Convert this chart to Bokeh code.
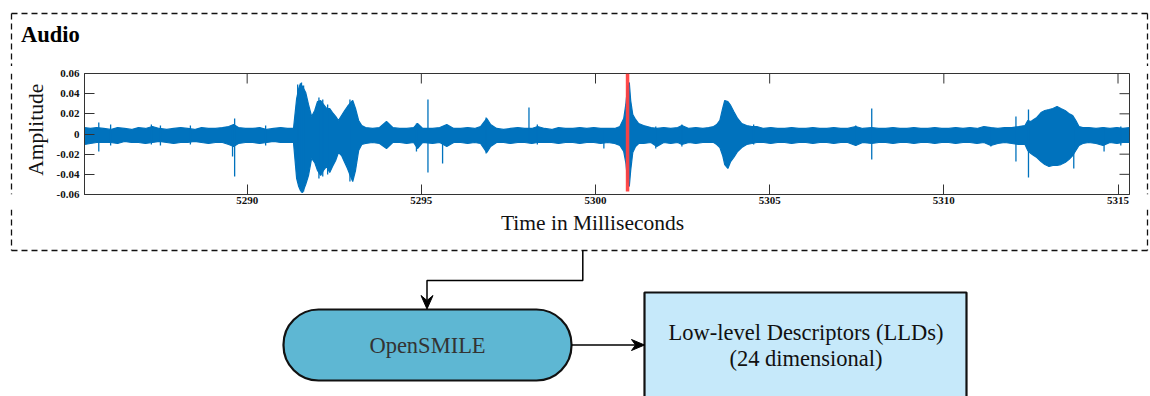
import math
from bokeh.plotting import figure
from bokeh.layouts import column, row
from bokeh.models import Range1d, FixedTicker, BoxAnnotation
from bokeh.core.properties import value
from bokeh.embed import file_html
from bokeh.resources import INLINE

# ---------------- data ----------------
x_span = [5285.33, 5315.33]
y_span = [-0.06, 0.06]
x_ticks = [5290, 5295, 5300, 5305, 5310, 5315]
x_tick_labels = ["5290", "5295", "5300", "5305", "5310", "5315"]
y_ticks = [-0.06, -0.04, -0.02, 0.0, 0.02, 0.04, 0.06]
y_tick_labels = ["-0.06", "-0.04", "-0.02", "0", "0.02", "0.04", "0.06"]

# waveform envelope (time in ms, upper / lower amplitude)
t_ms = [
    5285.33, 5285.50, 5285.68, 5285.88, 5286.08, 5286.28, 5286.48, 5286.68, 5286.88, 5287.08,
    5287.28, 5287.48, 5287.69, 5287.89, 5288.09, 5288.29, 5288.49, 5288.69, 5288.89, 5289.09,
    5289.29, 5289.47, 5289.61, 5289.75, 5289.95, 5290.16, 5290.36, 5290.56, 5290.76, 5290.96,
    5291.16, 5291.33, 5291.42, 5291.48, 5291.53, 5291.59, 5291.68, 5291.76, 5291.85, 5291.94,
    5292.02, 5292.11, 5292.19, 5292.28, 5292.37, 5292.45, 5292.54, 5292.62, 5292.71, 5292.80,
    5292.88, 5292.97, 5293.03, 5293.11, 5293.20, 5293.29, 5293.40, 5293.60, 5293.80, 5294.00,
    5294.18, 5294.38, 5294.58, 5294.78, 5294.89, 5295.04, 5295.32, 5295.53, 5295.73, 5295.93,
    5296.13, 5296.33, 5296.53, 5296.70, 5296.88, 5296.99, 5297.16, 5297.36, 5297.56, 5297.77,
    5297.97, 5298.17, 5298.34, 5298.54, 5298.74, 5298.94, 5299.14, 5299.35, 5299.55, 5299.75,
    5299.95, 5300.15, 5300.35, 5300.55, 5300.70, 5300.81, 5300.87, 5300.92, 5300.97, 5301.01,
    5301.07, 5301.15, 5301.24, 5301.38, 5301.59, 5301.76, 5301.96, 5302.16, 5302.36, 5302.48,
    5302.68, 5302.88, 5303.08, 5303.25, 5303.39, 5303.48, 5303.57, 5303.65, 5303.71, 5303.80,
    5303.88, 5303.97, 5304.08, 5304.20, 5304.34, 5304.49, 5304.63, 5304.83, 5305.03, 5305.23,
    5305.43, 5305.63, 5305.84, 5306.04, 5306.24, 5306.44, 5306.64, 5306.84, 5307.04, 5307.24,
    5307.47, 5307.67, 5307.93, 5308.13, 5308.33, 5308.54, 5308.74, 5308.94, 5309.14, 5309.34,
    5309.54, 5309.74, 5309.94, 5310.14, 5310.34, 5310.55, 5310.75, 5310.95, 5311.15, 5311.35,
    5311.55, 5311.75, 5311.95, 5312.15, 5312.33, 5312.41, 5312.50, 5312.58, 5312.67, 5312.79,
    5312.90, 5313.02, 5313.13, 5313.25, 5313.36, 5313.48, 5313.59, 5313.70, 5313.79, 5313.88,
    5313.99, 5314.16, 5314.37, 5314.57, 5314.77, 5314.97, 5315.14, 5315.33]
env_hi = [
    0.0064, 0.0055, 0.0064, 0.0055, 0.0045, 0.0064, 0.0055, 0.0045, 0.0064, 0.0055,
    0.0074, 0.0055, 0.0045, 0.0055, 0.0064, 0.0055, 0.0045, 0.0064, 0.0055, 0.0055,
    0.0064, 0.0074, 0.0094, 0.0064, 0.0055, 0.0055, 0.0064, 0.0045, 0.0055, 0.0064,
    0.0055, 0.0055, 0.0352, 0.0451, 0.0501, 0.0471, 0.0412, 0.0293, 0.0174, 0.0233,
    0.0322, 0.0332, 0.0293, 0.0253, 0.0253, 0.0213, 0.0174, 0.0134, 0.0184, 0.0233,
    0.0273, 0.0312, 0.0332, 0.0253, 0.0134, 0.0084, 0.0064, 0.0055, 0.0064, 0.0124,
    0.0064, 0.0055, 0.0055, 0.0064, 0.0104, 0.0055, 0.0055, 0.0064, 0.0094, 0.0055,
    0.0055, 0.0064, 0.0055, 0.0074, 0.0154, 0.0094, 0.0055, 0.0045, 0.0055, 0.0064,
    0.0055, 0.0055, 0.0074, 0.0055, 0.0045, 0.0064, 0.0055, 0.0055, 0.0064, 0.0055,
    0.0064, 0.0055, 0.0055, 0.0055, 0.0074, 0.0154, 0.0293, 0.0471, 0.0511, 0.0332,
    0.0193, 0.0144, 0.0104, 0.0084, 0.0064, 0.0055, 0.0064, 0.0055, 0.0064, 0.0084,
    0.0055, 0.0064, 0.0055, 0.0064, 0.0074, 0.0094, 0.0134, 0.0253, 0.0332, 0.0322,
    0.0283, 0.0223, 0.0154, 0.0104, 0.0084, 0.0074, 0.0074, 0.0055, 0.0064, 0.0055,
    0.0055, 0.0064, 0.0055, 0.0055, 0.0064, 0.0055, 0.0055, 0.0064, 0.0055, 0.0055,
    0.0074, 0.0055, 0.0064, 0.0055, 0.0055, 0.0064, 0.0055, 0.0055, 0.0064, 0.0055,
    0.0055, 0.0064, 0.0055, 0.0055, 0.0064, 0.0055, 0.0064, 0.0055, 0.0074, 0.0064,
    0.0055, 0.0064, 0.0064, 0.0074, 0.0084, 0.0134, 0.0124, 0.0144, 0.0164, 0.0213,
    0.0233, 0.0243, 0.0253, 0.0273, 0.0253, 0.0233, 0.0203, 0.0184, 0.0134, 0.0074,
    0.0064, 0.0064, 0.0055, 0.0064, 0.0055, 0.0064, 0.0055, 0.0064]
env_lo = [
    -0.0104, -0.0094, -0.0084, -0.0084, -0.0084, -0.0094, -0.0074, -0.0084, -0.0084, -0.0094,
    -0.0084, -0.0074, -0.0084, -0.0094, -0.0084, -0.0084, -0.0074, -0.0084, -0.0094, -0.0084,
    -0.0084, -0.0104, -0.0124, -0.0094, -0.0084, -0.0084, -0.0094, -0.0084, -0.0074, -0.0084,
    -0.0084, -0.0084, -0.0441, -0.0521, -0.0560, -0.0580, -0.0501, -0.0412, -0.0243, -0.0283,
    -0.0362, -0.0412, -0.0362, -0.0322, -0.0382, -0.0322, -0.0263, -0.0184, -0.0213, -0.0283,
    -0.0342, -0.0422, -0.0471, -0.0362, -0.0164, -0.0104, -0.0094, -0.0084, -0.0094, -0.0144,
    -0.0084, -0.0084, -0.0094, -0.0084, -0.0144, -0.0084, -0.0094, -0.0084, -0.0124, -0.0084,
    -0.0084, -0.0094, -0.0084, -0.0094, -0.0184, -0.0124, -0.0084, -0.0084, -0.0094, -0.0084,
    -0.0084, -0.0094, -0.0084, -0.0084, -0.0084, -0.0094, -0.0084, -0.0084, -0.0094, -0.0084,
    -0.0084, -0.0094, -0.0084, -0.0094, -0.0114, -0.0174, -0.0283, -0.0461, -0.0521, -0.0362,
    -0.0184, -0.0124, -0.0094, -0.0094, -0.0084, -0.0124, -0.0084, -0.0094, -0.0084, -0.0104,
    -0.0084, -0.0094, -0.0084, -0.0084, -0.0084, -0.0104, -0.0134, -0.0213, -0.0303, -0.0342,
    -0.0273, -0.0233, -0.0174, -0.0134, -0.0104, -0.0094, -0.0084, -0.0084, -0.0094, -0.0084,
    -0.0084, -0.0094, -0.0084, -0.0084, -0.0094, -0.0084, -0.0084, -0.0094, -0.0084, -0.0084,
    -0.0114, -0.0084, -0.0094, -0.0084, -0.0084, -0.0094, -0.0084, -0.0084, -0.0094, -0.0084,
    -0.0084, -0.0094, -0.0084, -0.0084, -0.0094, -0.0084, -0.0084, -0.0094, -0.0084, -0.0114,
    -0.0094, -0.0084, -0.0094, -0.0104, -0.0104, -0.0164, -0.0193, -0.0213, -0.0233, -0.0273,
    -0.0303, -0.0322, -0.0312, -0.0312, -0.0303, -0.0283, -0.0253, -0.0213, -0.0164, -0.0114,
    -0.0094, -0.0084, -0.0094, -0.0114, -0.0084, -0.0094, -0.0084, -0.0084]

# individual spikes sticking out of the band
spike_ms = [5285.74, 5286.08, 5287.25, 5287.51, 5288.37, 5289.58, 5289.64, 5290.53,
            5291.45, 5291.56, 5291.62, 5292.06, 5292.17, 5292.31, 5292.95, 5294.86,
            5295.19, 5295.61, 5296.86, 5298.09, 5298.33, 5300.24, 5301.73, 5302.48,
            5304.54, 5307.47, 5307.93, 5311.35, 5312.07, 5312.43, 5313.73, 5314.60, 5315.08]
spike_hi = [0.0114, 0.0094, 0.0094, 0.0084, 0.0084, 0.0084, 0.0154, 0.0084,
            0.0491, 0.0511, 0.0481, 0.0362, 0.0342, 0.0293, 0.0342, 0.0104,
            0.0342, 0.0000, 0.0164, 0.0263, 0.0094, 0.0035, 0.0074, 0.0094,
            0.0094, 0.0084, 0.0253, 0.0064, 0.0174, 0.0243, 0.0074, 0.0064, 0.0074]
spike_lo = [-0.0174, -0.0114, -0.0104, -0.0114, -0.0104, -0.0223, -0.0422, -0.0114,
            -0.0481, -0.0580, -0.0570, -0.0441, -0.0422, -0.0402, -0.0471, -0.0174,
            -0.0382, -0.0293, -0.0193, -0.0064, -0.0104, -0.0144, -0.0144, -0.0124,
            -0.0104, -0.0114, -0.0253, -0.0124, -0.0273, -0.0432, -0.0342, -0.0174, -0.0114]

# red time marker
marker_ms = [5300.92]
marker_lo = [-0.057]
marker_hi = [0.060]

panel_title = "Audio"
x_label = "Time in Milliseconds"
y_label = "Amplitude"
node_extract = "OpenSMILE"
node_lld = ["Low-level Descriptors (LLDs)", "(24 dimensional)"]

# ---------------- styling / layout ----------------
WAVE = "#0072BD"
RED = "#FF4040"
AX = "#333333"
SERIF = "Liberation Serif"
DASH = dict(line_color="#111111", line_width=1.3, line_dash="6 4")

PAGE_W, PAGE_H = 1150, 396
TOP_H = 66          # header strip
MID_B = 209         # bottom of the waveform strip
LEFT_W = 50         # strip left of the waveform figure
RIGHT_W = 15        # strip right of the waveform figure
BOX_L, BOX_R, BOX_T, BOX_B = 11, 1147, 13, 250   # dashed panel
FR_L, FR_R, FR_T, FR_B = 84, 1129, 73, 194       # waveform frame (page px)


def px_fig(x0, x1, y0, y1):
    f = figure(width=x1 - x0, height=y1 - y0, x_range=Range1d(x0, x1),
               y_range=Range1d(y1, y0), output_backend="svg", toolbar_location=None,
               x_axis_location=None, y_axis_location=None,
               min_border=0, min_border_left=0, min_border_right=0,
               min_border_top=0, min_border_bottom=0,
               background_fill_color="white", border_fill_color="white")
    f.outline_line_color = None
    f.grid.visible = False
    return f


def txt(f, x, y, s, size, **kw):
    f.text(x=[x], y=[y], text=[s], text_font=value(SERIF), text_font_size=value(size),
           text_baseline="middle", **kw)


# ---- header strip ----
top = px_fig(0, PAGE_W, 0, TOP_H)
top.segment(x0=[BOX_L], y0=[BOX_T], x1=[BOX_R], y1=[BOX_T], **DASH)
top.segment(x0=[BOX_L, BOX_R], y0=[BOX_T, BOX_T], x1=[BOX_L, BOX_R], y1=[TOP_H, TOP_H], **DASH)
txt(top, 20.5, 34, panel_title, "22.5px", text_font_style="bold", text_color="#000000",
    text_align="left")

# ---- left strip ----
left = px_fig(0, LEFT_W, TOP_H, MID_B)
left.segment(x0=[BOX_L], y0=[TOP_H], x1=[BOX_L], y1=[MID_B], **DASH)
txt(left, 35.5, 132.5, y_label, "21.5px", angle=math.pi / 2, text_color="#111111",
    text_align="center")

# ---- right strip ----
right = px_fig(PAGE_W - RIGHT_W, PAGE_W, TOP_H, MID_B)
right.segment(x0=[BOX_R], y0=[TOP_H], x1=[BOX_R], y1=[MID_B], **DASH)

# ---- waveform figure ----
wave_w = PAGE_W - LEFT_W - RIGHT_W
p = figure(width=wave_w, height=MID_B - TOP_H,
           x_range=Range1d(*x_span), y_range=Range1d(*y_span),
           output_backend="svg", toolbar_location=None,
           min_border_left=FR_L - LEFT_W, min_border_right=LEFT_W + wave_w - FR_R,
           min_border_top=FR_T - TOP_H, min_border_bottom=MID_B - FR_B,
           background_fill_color="white", border_fill_color="white")
p.grid.visible = False
p.outline_line_color = AX
p.outline_line_width = 1


def style_axis(ax):
    ax.major_tick_in = 10
    ax.major_tick_out = 0
    ax.minor_tick_in = 0
    ax.minor_tick_out = 0
    ax.minor_tick_line_color = None
    ax.axis_line_color = AX
    ax.major_tick_line_color = AX
    ax.major_label_text_font = SERIF
    ax.major_label_text_font_style = "bold"
    ax.major_label_text_font_size = "11px"
    ax.major_label_text_color = "#111111"


xa = p.xaxis[0]
xa.ticker = FixedTicker(ticks=x_ticks)
xa.major_label_overrides = dict(zip(x_ticks, x_tick_labels))
style_axis(xa)
xa.major_label_standoff = 2

ya = p.yaxis[0]
ya.ticker = FixedTicker(ticks=y_ticks)
ya.major_label_overrides = dict(zip(y_ticks, y_tick_labels))
style_axis(ya)
ya.major_label_standoff = 5

# mirrored inward ticks on the top and right edges (10 px long)
frame_w, frame_h = FR_R - FR_L, FR_B - FR_T
tick_dy = 10 * (y_span[1] - y_span[0]) / frame_h
tick_dx = 10 * (x_span[1] - x_span[0]) / frame_w
p.segment(x0=x_ticks, y0=[y_span[1]] * len(x_ticks), x1=x_ticks,
          y1=[y_span[1] - tick_dy] * len(x_ticks), line_color=AX, line_width=1)
p.segment(x0=[x_span[1]] * len(y_ticks), y0=y_ticks, x1=[x_span[1] - tick_dx] * len(y_ticks),
          y1=y_ticks, line_color=AX, line_width=1)

# waveform
p.varea(x=t_ms, y1=env_lo, y2=env_hi, fill_color=WAVE)
p.line(x=t_ms, y=env_hi, line_color=WAVE, line_width=1.2)
p.line(x=t_ms, y=env_lo, line_color=WAVE, line_width=1.2)
p.segment(x0=spike_ms, y0=spike_lo, x1=spike_ms, y1=spike_hi, line_color=WAVE, line_width=1.3)
p.segment(x0=marker_ms, y0=marker_lo, x1=marker_ms, y1=marker_hi, line_color=RED,
          line_width=3.5, line_alpha=0.95)

# ---- bottom strip: axis title, panel bottom, flow diagram ----
bot = px_fig(0, PAGE_W, MID_B, PAGE_H)
bot.segment(x0=[BOX_L, BOX_R], y0=[MID_B, MID_B], x1=[BOX_L, BOX_R], y1=[BOX_B, BOX_B], **DASH)
bot.segment(x0=[BOX_L], y0=[BOX_B], x1=[BOX_R], y1=[BOX_B], **DASH)
txt(bot, 592, 222, x_label, "21.5px", text_color="#111111", text_align="center")

bot.add_layout(BoxAnnotation(left=283, right=571, top=309, bottom=380, level="underlay",
                             fill_color="#5EB7D3", fill_alpha=1, line_color="#111111",
                             line_alpha=1, line_width=2.2, border_radius=35))
bot.add_layout(BoxAnnotation(left=644, right=966, top=292, bottom=430, level="underlay",
                             fill_color="#C6E9FA", fill_alpha=1, line_color="#111111",
                             line_alpha=1, line_width=2.2))

bot.line(x=[582.3, 582.3, 426.5, 426.5], y=[BOX_B, 280, 280, 300], line_color="#000000",
         line_width=1.5)
bot.patch(x=[426.5, 420.5, 426.5, 432.5], y=[308.5, 295, 300, 295], fill_color="#000000",
          line_color="#000000", line_width=1)
bot.line(x=[571, 636], y=[344.5, 344.5], line_color="#000000", line_width=1.5)
bot.patch(x=[644, 631, 635, 631], y=[344.5, 339, 344.5, 350], fill_color="#000000",
          line_color="#000000", line_width=1)

txt(bot, 427, 345, node_extract, "22.5px", text_color="#333333", text_align="center")
txt(bot, 805.5, 332, node_lld[0], "22.5px", text_color="#111111", text_align="center")
txt(bot, 805.5, 357.5, node_lld[1], "22.5px", text_color="#111111", text_align="center")

layout = column(top, row(left, p, right, spacing=0), bot, spacing=0)
open("out.html", "w").write(file_html(layout, INLINE))
